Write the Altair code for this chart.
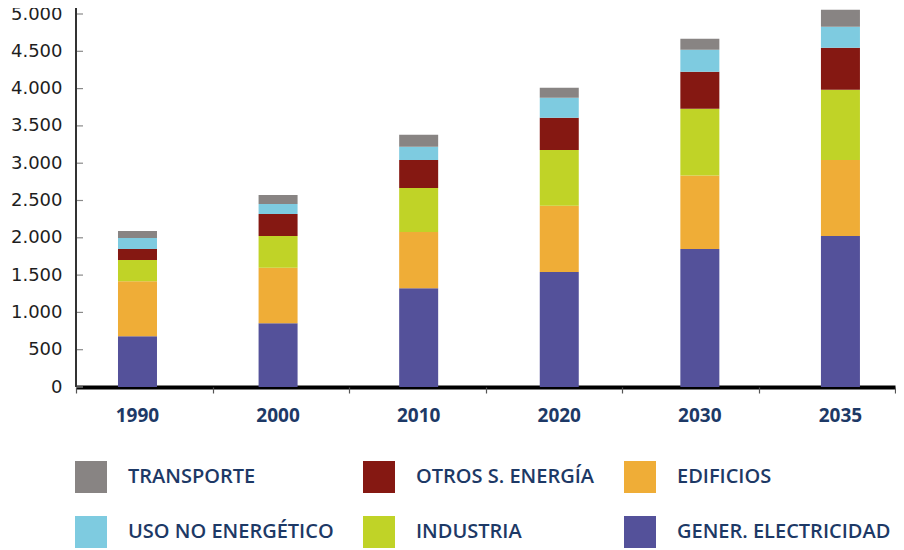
import altair as alt
import pandas as pd

years = ["1990", "2000", "2010", "2020", "2030", "2035"]

# stacked bottom -> top
categories = ["GENER. ELECTRICIDAD", "EDIFICIOS", "INDUSTRIA",
              "OTROS S. ENERGÍA", "USO NO ENERGÉTICO", "TRANSPORTE"]
gener = [680, 855, 1325, 1540, 1849, 2023]
edificios = [739, 743, 752, 891, 985, 1021]
industria = [282, 425, 591, 747, 895, 940]
otros = [148, 296, 376, 430, 497, 564]
uso = [147, 134, 175, 269, 295, 282]
transporte = [94, 121, 161, 134, 148, 228]
series = [gener, edificios, industria, otros, uso, transporte]

legend_order = ["TRANSPORTE", "OTROS S. ENERGÍA", "EDIFICIOS",
                "USO NO ENERGÉTICO", "INDUSTRIA", "GENER. ELECTRICIDAD"]
legend_colors = ["#888483", "#851812", "#efad37",
                 "#7ecbe0", "#c0d327", "#54519a"]

y_ticks = [0, 500, 1000, 1500, 2000, 2500, 3000, 3500, 4000, 4500, 5000]

rows = []
for i, (cat, vals) in enumerate(zip(categories, series)):
    for yr, v in zip(years, vals):
        rows.append({"year": yr, "cat": cat, "value": v, "ord": i})
df = pd.DataFrame(rows)
df_years = pd.DataFrame({"year": years})
df_ticks = pd.DataFrame({"value": y_ticks})

NAVY = "#1d3966"
H = 373

y_axis = alt.Axis(title=None, values=y_ticks, grid=False, ticks=False,
                  domain=False, labelOverlap=False,
                  labelExpr="replace(format(datum.value, ','), ',', '.')",
                  labelFont="DejaVu Sans", labelFontSize=18,
                  labelColor="#1e1e1e", labelPadding=14)
y_scale = alt.Scale(domain=[0, 5000], nice=False)

bars = alt.Chart(df).mark_bar().encode(
    x=alt.X("year:N", sort=years,
            scale=alt.Scale(paddingInner=0.7226, paddingOuter=0.274, align=0.545),
            axis=alt.Axis(title=None, labelAngle=0, ticks=False,
                          domainColor="#000000", domainWidth=4,
                          labelFont="Open Sans", labelFontWeight="bold",
                          labelFontSize=19, labelColor=NAVY, labelPadding=19)),
    y=alt.Y("value:Q", stack="zero", scale=y_scale, axis=y_axis),
    color=alt.Color("cat:N",
                    scale=alt.Scale(domain=legend_order, range=legend_colors),
                    legend=alt.Legend(title=None, orient="none",
                                      legendX=-1, legendY=447,
                                      direction="horizontal", columns=3,
                                      symbolType="square", symbolSize=1024,
                                      symbolStrokeWidth=0, symbolOpacity=1,
                                      labelFont="Open Sans", labelFontWeight=600,
                                      labelFontSize=20, labelColor=NAVY,
                                      labelOffset=21, labelLimit=400,
                                      rowPadding=23, columnPadding=29)),
    order=alt.Order("ord:Q", sort="ascending"),
)

x_ticks = alt.Chart(df_years).mark_point(opacity=0).encode(
    x=alt.X("year:N", sort=years,
            scale=alt.Scale(paddingInner=0, paddingOuter=0),
            axis=alt.Axis(title=None, orient="bottom", labels=False, domain=False,
                          ticks=True, tickBand="extent", tickSize=6,
                          tickColor="#555555", tickWidth=1.2)),
)

y_tick_marks = alt.Chart(df_ticks).mark_rule(color="#8a8a8a", strokeWidth=1.2).encode(
    y=alt.Y("value:Q", scale=y_scale, axis=y_axis),
    x=alt.value(0),
    x2=alt.value(7),
)

y_domain = alt.Chart(df_years).mark_rule(color="#333333", strokeWidth=1.5).encode(
    x=alt.value(0),
    y=alt.value(-8),
    y2=alt.value(H),
)

chart = alt.layer(bars, y_tick_marks, y_domain, x_ticks).resolve_scale(
    x="independent"
).resolve_axis(
    x="independent"
).properties(
    width=819, height=H,
    autosize=alt.AutoSizeParams(type="none"),
    padding={"left": 68, "top": 6, "right": 1, "bottom": 165},
).configure_view(stroke=None).configure_axisY(labelOverlap=False)

chart.save("out.html", embed_options={"renderer": "svg", "actions": False})
